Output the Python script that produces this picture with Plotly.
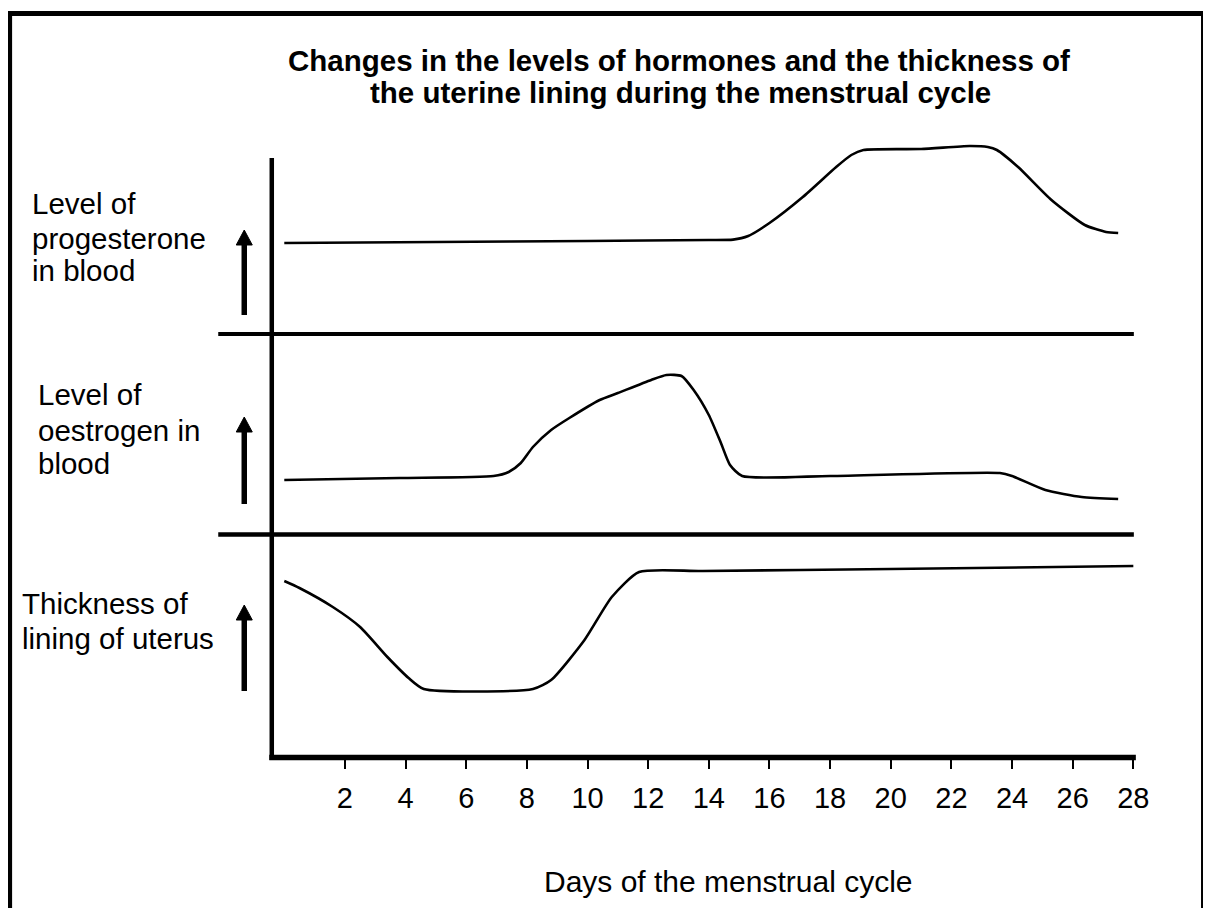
import plotly.graph_objects as go

# The page body has an 8px margin; the captured picture is also squeezed
# horizontally by 1211/1227.  Reference pixel positions are mapped accordingly.
PAGE_W, PAGE_H = 1211, 916
OFF = 8
K = 1211 / 1227
W, H = 1211, PAGE_H - 2 * OFF

# ---------------- data (arbitrary relative units) ----------------
days_progesterone = [0, 5.0, 10.0, 14.0, 14.8, 15.3, 16.0, 17.1, 18.2, 18.7, 19.1,
                     21.0, 22.6, 23.2, 23.5, 24.2, 25.3, 26.4, 27.1, 27.5]
progesterone_level = [4.65, 4.70, 4.75, 4.80, 4.82, 5.00, 5.65, 6.95, 8.45, 9.05, 9.30,
                      9.35, 9.50, 9.45, 9.30, 8.45, 6.80, 5.55, 5.20, 5.15]

days_oestrogen = [0, 3.8, 6.9, 7.4, 7.8, 8.2, 8.8, 9.4, 10.4, 11.0, 12.1, 12.6, 13.1,
                  13.5, 14.0, 14.4, 14.7, 15.1, 18.0, 23.6, 24.0, 25.1, 26.3, 27.5]
oestrogen_level = [2.80, 2.90, 3.00, 3.20, 3.65, 4.45, 5.30, 5.90, 6.80, 7.15, 7.80, 8.05, 8.00,
                   7.30, 6.05, 4.65, 3.55, 3.00, 3.00, 3.15, 3.00, 2.30, 1.95, 1.85]

days_lining = [0, 0.5, 1.6, 2.5, 3.4, 4.1, 4.6, 8.2, 8.8, 9.9, 10.8, 11.7, 13.8, 20.0, 28.0]
lining_thickness = [8.75, 8.40, 7.45, 6.45, 4.95, 3.90, 3.35, 3.35, 3.80, 5.80, 7.95, 9.20,
                    9.25, 9.35, 9.50]

tick_days = [2, 4, 6, 8, 10, 12, 14, 16, 18, 20, 22, 24, 26, 28]
tick_labels = [str(d) for d in tick_days]

title_lines = ["Changes in the levels of hormones and the thickness of",
               "the uterine lining during the menstrual cycle"]
progesterone_label = ["Level of", "progesterone", "in blood"]
oestrogen_label = ["Level of", "oestrogen in", "blood"]
lining_label = ["Thickness of", "lining of uterus"]
x_title = "Days of the menstrual cycle"

FONT = "Liberation Sans, Arial, Helvetica, sans-serif"


def fx(p):
    """reference picture pixel x -> paper fraction"""
    return (p / K - OFF) / W


def fy(p):
    """reference picture pixel y -> paper fraction"""
    return 1 - (p - OFF) / H


fig = go.Figure()
line_style = dict(color="black", width=2.6, shape="spline", smoothing=0.6)
fig.add_trace(go.Scatter(x=days_progesterone, y=progesterone_level, xaxis="x", yaxis="y3",
                         mode="lines", line=line_style, hoverinfo="skip"))
fig.add_trace(go.Scatter(x=days_oestrogen, y=oestrogen_level, xaxis="x", yaxis="y2",
                         mode="lines", line=line_style, hoverinfo="skip"))
fig.add_trace(go.Scatter(x=days_lining, y=lining_thickness, xaxis="x", yaxis="y",
                         mode="lines", line=line_style, hoverinfo="skip"))

shapes = []


def hline(y, x0, x1, w):
    shapes.append(dict(type="line", xref="paper", yref="paper", x0=fx(x0), x1=fx(x1),
                       y0=fy(y), y1=fy(y), line=dict(color="black", width=w)))


def vline(x, y0, y1, w):
    shapes.append(dict(type="line", xref="paper", yref="paper", x0=fx(x), x1=fx(x),
                       y0=fy(y0), y1=fy(y1), line=dict(color="black", width=w)))


# outer frame (open at the bottom)
hline(13.5, 7, PAGE_W + 20, 5)
vline(9.5, 11, PAGE_H, 5)
shapes.append(dict(type="line", xref="paper", yref="paper", x0=1 - 1.5 / W, x1=1 - 1.5 / W,
                   y0=fy(11), y1=fy(PAGE_H), line=dict(color="black", width=3)))

# panel frame
vline(271.5, 158, 760, 4.5)
hline(334, 218, 1133, 4)
hline(534.5, 218, 1133, 4.5)
hline(757.5, 269, 1135, 5.5)


def arrow(x, top, bottom):
    head = 15
    vline(x, bottom, top + head - 1, 5.5)
    path = "M {} {} L {} {} L {} {} Z".format(fx(x - 8), fy(top + head), fx(x + 8), fy(top + head),
                                               fx(x), fy(top))
    shapes.append(dict(type="path", xref="paper", yref="paper", path=path,
                       fillcolor="black", line=dict(color="black", width=1)))


arrow(244, 230, 315)
arrow(244, 417, 504)
arrow(244, 605, 691)

annotations = []


def text(t, x, y, size, anchor="left", bold=False):
    annotations.append(dict(text=("<b>" + t + "</b>") if bold else t, x=fx(x), y=fy(y),
                            xref="paper", yref="paper", xanchor=anchor, yanchor="middle",
                            align="left", showarrow=False,
                            font=dict(family=FONT, size=size, color="black")))


text(title_lines[0], 678, 60, 29.5, anchor="center", bold=True)
text(title_lines[1], 680, 92, 29.5, anchor="center", bold=True)

for line, yc in zip(progesterone_label, [204, 239, 271]):
    text(line, 30, yc, 29.5)
for line, yc in zip(oestrogen_label, [394, 430, 463]):
    text(line, 36, yc, 29.5)
for line, yc in zip(lining_label, [603, 638]):
    text(line, 20, yc, 29.5)

text(x_title, 727, 881, 30, anchor="center")

fig.update_layout(
    width=W, height=H, autosize=False,
    margin=dict(l=0, r=0, t=0, b=0, pad=0),
    paper_bgcolor="white", plot_bgcolor="white",
    showlegend=False,
    xaxis=dict(domain=[fx(272), fx(1134)], range=[-0.396, 28.05], anchor="y",
               tickmode="array", tickvals=tick_days, ticktext=tick_labels,
               ticks="outside", ticklen=12, tickwidth=1.5, tickcolor="black",
               ticklabelstandoff=4,
               showline=False, showgrid=False, zeroline=False,
               tickfont=dict(family=FONT, size=29, color="black")),
    yaxis=dict(domain=[fy(756), fy(536)], range=[0, 11], visible=False),
    yaxis2=dict(domain=[fy(536), fy(336)], range=[0, 10], visible=False),
    yaxis3=dict(domain=[fy(336), fy(136)], range=[0, 10], visible=False),
    shapes=shapes,
    annotations=annotations,
)

fig.write_html("out.html")
